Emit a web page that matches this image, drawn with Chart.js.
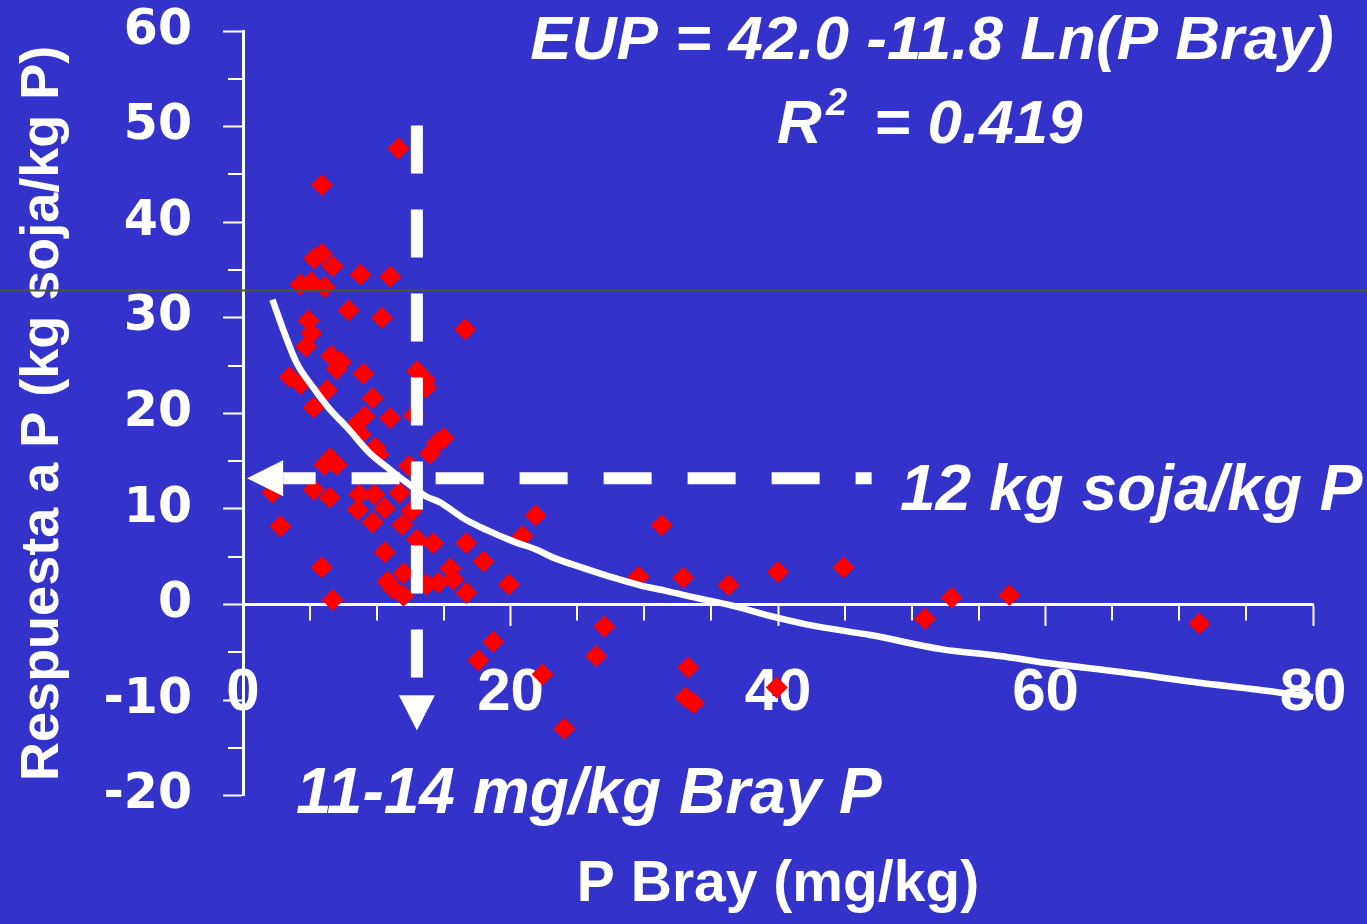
<!DOCTYPE html>
<html><head><meta charset="utf-8">
<script src="https://cdn.jsdelivr.net/npm/chart.js@4.4.1/dist/chart.umd.min.js"></script>
<style>
html,body{margin:0;padding:0;background:#3333CC;overflow:hidden;}
#wrap{position:relative;width:1367px;height:924px;}
</style></head><body>
<div id="wrap"><canvas id="c" width="1367" height="924"></canvas></div>
<script>
// ---- data ----
const pBray = [11.6,5.9,5.9,5.3,6.7,8.8,11.0,4.3,5.1,6.1,7.9,10.4,4.9,16.6,5.1,4.7,6.6,7.3,7.0,9.0,
  13.0,13.6,13.7,3.5,4.3,6.3,9.7,5.3,11.0,12.8,9.1,8.5,8.8,9.9,10.1,15.0,14.5,14.0,6.5,6.1,
  7.0,12.4,2.2,5.3,6.5,8.7,9.8,11.7,8.6,10.6,9.7,11.9,12.6,2.8,13.0,14.2,16.7,10.6,18.0,5.9,
  15.5,12.0,10.8,11.2,12.0,13.7,14.6,15.7,16.7,6.7,21.9,20.9,31.3,19.9,29.6,32.9,36.3,40.0,44.9,53.0,
  57.3,51.0,71.5,27.0,18.7,17.6,26.4,22.4,33.3,33.1,33.7,24.0,39.9];
const response = [47.7,43.9,36.7,36.2,35.4,34.5,34.3,33.5,33.7,33.2,30.8,30.0,29.7,28.8,28.4,27.0,26.0,25.4,24.6,24.1,
  24.4,23.5,22.7,23.8,23.1,22.4,21.6,20.6,19.5,19.8,19.7,18.9,17.8,16.4,15.7,17.4,16.9,15.8,15.3,14.6,
  14.6,14.5,11.7,12.0,11.2,11.5,11.5,11.7,9.9,10.1,8.6,8.3,9.8,8.2,6.8,6.4,6.4,5.5,4.5,3.9,
  3.8,3.3,2.4,1.7,0.9,2.1,2.3,2.6,1.2,0.5,9.3,7.2,8.3,2.1,2.9,2.8,2.0,3.4,3.9,0.7,
  1.0,-1.5,-2.0,-2.3,-3.9,-5.8,-5.4,-7.3,-6.6,-9.7,-10.3,-13.0,-8.7];
const trendX = [2.2,3.1,4.0,5.3,6.5,7.8,9.5,11.0,12.2,13.7,14.7,16.5,18.2,20.2,22.0,23.2,25.7,27.7,29.7,31.7,
  33.2,36.2,40.0,42.9,46.9,52.3,56.6,60.0,65.8,71.5,75.8,80.0];
const trendY = [31.9,28.4,25.3,22.6,20.4,18.5,15.8,14.1,12.8,11.3,10.7,9.0,7.8,6.6,5.7,4.9,3.7,2.8,2.0,1.4,
  0.9,0.0,-1.4,-2.3,-3.2,-4.7,-5.4,-6.1,-7.1,-8.2,-8.9,-9.7];
const xTicks = [0,20,40,60,80];
const xMinorTicks = [5,10,15,25,30,35,45,50,55,65,70,75];
const yTicks = [-20,-10,0,10,20,30,40,50,60];
const yMinorTicks = [-15,-5,5,15,25,35,45,55];
const xTitle = 'P Bray (mg/kg)';
const yTitle = 'Respuesta a P (kg soja/kg P)';
const equationText = 'EUP = 42.0 -11.8 Ln(P Bray)';
const r2Parts = ['R','2','= 0.419'];
const hLabel = '12 kg soja/kg P';
const vLabel = '11-14 mg/kg Bray P';
// critical level guide lines (data units)
const critX = 13.0, vLineFrom = 50.1, vLineTo = -9.5, vArrowTip = -13.2;
const critY = 13.2, hLineFrom = 47.0, hLineTo = 3.0, hArrowTip = 0.3;
const refLineY = 32.94;

const FONT = '"Liberation Sans", Arial, sans-serif';
const YFONT = '"DejaVu Sans", Verdana, sans-serif';
const BG = '#3333CC';

const bgPlugin = {
  id: 'bg',
  beforeDraw(chart) {
    const c = chart.ctx; c.save(); c.fillStyle = BG; c.fillRect(0,0,chart.width,chart.height); c.restore();
  }
};

const annotPlugin = {
  id: 'annot',
  afterDatasetsDraw(chart) {
    const c = chart.ctx, xs = chart.scales.x, ys = chart.scales.y;
    c.save();
    // minor ticks
    c.strokeStyle = '#fff'; c.lineWidth = 2;
    const y0 = ys.getPixelForValue(0);
    xMinorTicks.forEach(v => { const px = Math.round(xs.getPixelForValue(v)); c.beginPath(); c.moveTo(px, y0); c.lineTo(px, y0 + 16); c.stroke(); });
    const xl = xs.left;
    yMinorTicks.forEach(v => { const py = Math.round(ys.getPixelForValue(v)); c.beginPath(); c.moveTo(xl, py); c.lineTo(xl - 15, py); c.stroke(); });
    // dashed guides
    c.strokeStyle = '#fff'; c.fillStyle = '#fff'; c.lineWidth = 12; c.lineCap = 'butt';
    const vx = xs.getPixelForValue(critX);
    c.setLineDash([48,36]); c.lineDashOffset = 0;
    c.beginPath(); c.moveTo(vx, ys.getPixelForValue(vLineFrom)); c.lineTo(vx, ys.getPixelForValue(vLineTo)); c.stroke();
    const vb = ys.getPixelForValue(vLineTo), vt = ys.getPixelForValue(vArrowTip);
    c.setLineDash([]);
    c.beginPath(); c.moveTo(vx-18, vb); c.lineTo(vx+18, vb); c.lineTo(vx, vt); c.closePath(); c.fill();
    const hy = ys.getPixelForValue(critY);
    c.setLineDash([48,36]); c.lineDashOffset = 32;
    c.beginPath(); c.moveTo(xs.getPixelForValue(hLineFrom), hy); c.lineTo(xs.getPixelForValue(hLineTo), hy); c.stroke();
    c.setLineDash([]);
    const hb = xs.getPixelForValue(hLineTo), ht = xs.getPixelForValue(hArrowTip);
    c.beginPath(); c.moveTo(hb, hy-18); c.lineTo(hb, hy+18); c.lineTo(ht, hy); c.closePath(); c.fill();
    c.restore();
  },
  afterDraw(chart) {
    const c = chart.ctx, ys = chart.scales.y;
    c.save();
    c.fillStyle = '#fff'; c.textBaseline = 'alphabetic';
    c.font = 'italic bold 62px ' + FONT;
    c.textAlign = 'center';
    c.fillText(equationText, 932, 59);
    c.textAlign = 'left';
    c.fillText(r2Parts[0], 777, 143);
    c.font = 'italic bold 38px ' + FONT;
    c.fillText(r2Parts[1], 826, 115);
    c.font = 'italic bold 62px ' + FONT;
    c.fillText(r2Parts[2], 874, 143);
    c.font = 'italic bold 64px ' + FONT;
    c.fillText(hLabel, 900, 510);
    c.fillText(vLabel, 296, 813);
    // thin reference line across the slide
    const ry = Math.round(ys.getPixelForValue(refLineY)) + 0.5;
    c.strokeStyle = '#4b5636'; c.lineWidth = 2;
    c.beginPath(); c.moveTo(0, ry); c.lineTo(chart.width, ry); c.stroke();
    c.restore();
  }
};

new Chart(document.getElementById('c').getContext('2d'), {
  type: 'scatter',
  data: {
    datasets: [
      { type: 'line', data: trendX.map((x,i)=>({x, y: trendY[i]})), borderColor: '#fff', borderWidth: 6.5,
        pointRadius: 0, fill: false, cubicInterpolationMode: 'monotone', order: 0, clip: false },
      { type: 'scatter', data: pBray.map((x,i)=>({x, y: response[i]})), pointStyle: 'rectRot', pointRadius: 11,
        backgroundColor: '#FF0000', borderColor: '#FF0000', borderWidth: 0, order: 1, clip: false }
    ]
  },
  options: {
    responsive: false, animation: false, devicePixelRatio: 1,
    layout: { padding: { top: 31, right: 54, left: 0, bottom: 0 } },
    plugins: {
      legend: { display: false }, tooltip: { enabled: false },
      title: { display: true, position: 'bottom', text: xTitle, fullSize: false, color: '#fff',
        font: { family: FONT, size: 57, weight: 'bold' }, padding: { top: 55, bottom: 5 } }
    },
    scales: {
      x: { type: 'linear', min: 0, max: 80, position: { y: 0 },
        afterBuildTicks: s => { s.ticks = xTicks.map(v => ({ value: v })); },
        afterFit: s => { s.paddingLeft = 0; s.paddingRight = 0; s.paddingTop = 0; s.paddingBottom = 0; },
        ticks: { color: '#fff', font: { family: FONT, size: 60, weight: 'bold' }, padding: 33, autoSkip: false, maxRotation: 0 },
        grid: { drawOnChartArea: false, drawTicks: true, tickLength: 20, tickWidth: 2, tickColor: '#fff' },
        border: { color: '#fff', width: 3 } },
      y: { type: 'linear', min: -20, max: 60,
        afterBuildTicks: s => { s.ticks = yTicks.map(v => ({ value: v })); },
        afterFit: s => { s.width = 243; s.paddingTop = 0; s.paddingBottom = 0; s.paddingLeft = 0; s.paddingRight = 0; },
        ticks: { color: '#fff', font: { family: YFONT, size: 49, weight: 'bold' }, padding: 31, autoSkip: false },
        grid: { drawOnChartArea: false, drawTicks: true, tickLength: 20, tickWidth: 2, tickColor: '#fff' },
        border: { color: '#fff', width: 3 },
        title: { display: true, text: yTitle, color: '#fff', font: { family: FONT, size: 54, weight: 'bold' }, padding: { top: 11, bottom: 0 } } }
    }
  },
  plugins: [bgPlugin, annotPlugin]
});
</script>
</body></html>
